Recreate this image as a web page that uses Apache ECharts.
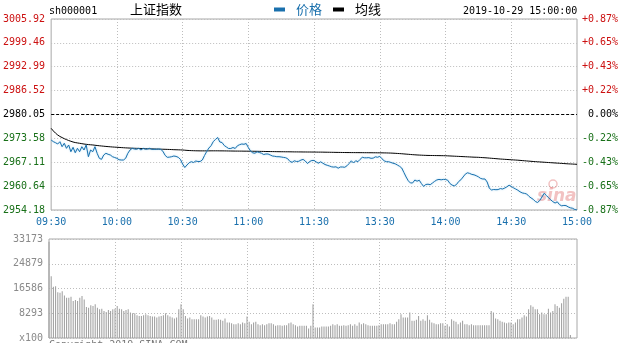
<!DOCTYPE html>
<html><head><meta charset="utf-8">
<script src="https://cdn.jsdelivr.net/npm/echarts@6/dist/echarts.min.js"></script>
<style>html,body{margin:0;padding:0;background:#fff}#c{width:624px;height:343px}</style>
</head><body><div id="c"></div><script>
const stockCode = 'sh000001';
const stockName = '上证指数';
const stamp = '2019-10-29 15:00:00';
const prevClose = 2980.05;
const priceTicks = [2954.18, 2960.64, 2967.11, 2973.58, 2980.05, 2986.52, 2992.99, 2999.46, 3005.92];
const timeTicks = ['09:30', '10:00', '10:30', '11:00', '11:30', '13:30', '14:00', '14:30', '15:00'];
const volTicks = [0, 8293.25, 16586.5, 24879.75, 33173];

const price = [
2973.14,2972.70,2972.41,2972.06,2972.68,2971.33,2972.25,2970.89,2971.79,2969.97,
2971.16,2969.70,2970.89,2969.97,2971.33,2970.43,2971.79,2968.62,2970.43,2969.97,
2971.33,2969.54,2968.18,2967.91,2969.08,2969.54,2969.27,2969.08,2968.62,2968.40,
2968.18,2967.80,2967.72,2967.72,2968.18,2969.54,2970.43,2970.89,2970.70,2970.62,
2970.89,2970.43,2970.89,2970.62,2970.70,2970.89,2970.60,2970.62,2970.62,2970.70,
2970.62,2970.10,2969.00,2968.45,2968.50,2968.62,2968.80,2968.70,2968.45,2967.91,
2966.64,2965.69,2966.37,2966.99,2967.26,2967.05,2967.45,2967.32,2967.32,2967.72,
2968.94,2970.03,2970.97,2971.60,2972.73,2973.28,2973.82,2972.60,2972.46,2971.65,
2971.24,2970.84,2970.84,2971.11,2970.84,2971.57,2971.87,2972.06,2971.98,2972.19,
2971.11,2970.16,2969.67,2969.56,2969.94,2969.76,2969.56,2969.21,2969.35,2969.35,
2969.08,2968.81,2968.73,2968.62,2968.62,2968.54,2968.43,2968.35,2968.05,2967.32,
2967.10,2967.51,2967.32,2967.37,2967.70,2967.89,2967.45,2966.77,2967.32,2967.59,
2967.60,2967.18,2966.86,2967.23,2966.86,2966.50,2966.29,2966.10,2965.88,2965.80,
2965.88,2965.50,2965.83,2965.83,2965.75,2966.15,2966.77,2967.51,2966.91,2967.53,
2967.26,2967.89,2968.46,2968.32,2968.32,2968.37,2968.18,2968.24,2968.59,2968.46,
2968.73,2968.05,2967.51,2967.26,2967.26,2967.07,2966.86,2966.70,2966.37,2966.02,
2965.56,2964.34,2963.12,2962.09,2961.49,2961.52,2962.31,2961.98,2962.25,2961.33,
2960.57,2961.09,2961.17,2961.03,2961.47,2961.93,2962.31,2962.47,2962.36,2962.47,
2962.44,2962.25,2961.36,2960.92,2960.71,2961.09,2961.90,2962.36,2963.12,2963.88,
2964.26,2964.09,2963.82,2963.71,2963.47,2963.17,2962.74,2962.58,2962.58,2961.76,
2960.06,2959.60,2959.73,2959.68,2959.71,2959.98,2959.87,2960.11,2960.46,2960.90,
2960.57,2960.19,2959.87,2959.54,2959.11,2958.81,2958.68,2958.54,2957.92,2957.46,
2957.08,2956.48,2956.21,2956.75,2957.70,2958.70,2958.13,2957.51,2956.94,2956.43,
2956.07,2956.40,2955.64,2955.31,2955.42,2955.37,2955.01,2954.77,2954.64,2954.31,
2954.18];

const avg = [
2976.30,2975.60,2975.00,2974.50,2974.10,2973.80,2973.50,2973.25,2973.00,2972.80,
2972.60,2972.45,2972.35,2972.25,2972.15,2972.05,2971.97,2971.90,2971.85,2971.80,
2971.72,2971.65,2971.58,2971.52,2971.46,2971.40,2971.35,2971.30,2971.25,2971.21,
2971.17,2971.13,2971.09,2971.05,2971.01,2970.98,2970.95,2970.92,2970.90,2970.88,
2970.86,2970.84,2970.82,2970.80,2970.78,2970.76,2970.74,2970.72,2970.70,2970.68,
2970.66,2970.64,2970.62,2970.60,2970.58,2970.55,2970.52,2970.50,2970.48,2970.46,
2970.43,2970.38,2970.33,2970.29,2970.26,2970.24,2970.22,2970.21,2970.20,2970.20,
2970.20,2970.20,2970.20,2970.21,2970.21,2970.21,2970.21,2970.20,2970.20,2970.19,
2970.18,2970.17,2970.16,2970.15,2970.14,2970.14,2970.13,2970.13,2970.12,2970.12,
2970.11,2970.10,2970.09,2970.08,2970.07,2970.06,2970.05,2970.04,2970.03,2970.02,
2970.01,2970.00,2969.99,2969.98,2969.97,2969.96,2969.96,2969.95,2969.95,2969.94,
2969.93,2969.92,2969.92,2969.91,2969.91,2969.90,2969.90,2969.89,2969.89,2969.88,
2969.88,2969.87,2969.86,2969.86,2969.85,2969.84,2969.83,2969.82,2969.81,2969.80,
2969.79,2969.78,2969.77,2969.76,2969.75,2969.74,2969.74,2969.73,2969.73,2969.72,
2969.72,2969.71,2969.71,2969.70,2969.70,2969.69,2969.69,2969.68,2969.68,2969.67,
2969.67,2969.66,2969.65,2969.64,2969.62,2969.60,2969.57,2969.54,2969.50,2969.46,
2969.42,2969.37,2969.32,2969.27,2969.22,2969.17,2969.13,2969.09,2969.06,2969.03,
2969.00,2968.98,2968.96,2968.95,2968.94,2968.93,2968.92,2968.91,2968.90,2968.89,
2968.88,2968.85,2968.82,2968.79,2968.76,2968.73,2968.70,2968.67,2968.64,2968.61,
2968.58,2968.55,2968.52,2968.49,2968.47,2968.45,2968.41,2968.37,2968.33,2968.29,
2968.24,2968.19,2968.14,2968.09,2968.04,2967.99,2967.95,2967.91,2967.87,2967.83,
2967.79,2967.75,2967.71,2967.67,2967.62,2967.57,2967.52,2967.47,2967.42,2967.37,
2967.32,2967.28,2967.24,2967.20,2967.16,2967.12,2967.08,2967.04,2967.00,2966.96,
2966.92,2966.88,2966.84,2966.80,2966.76,2966.72,2966.68,2966.65,2966.62,2966.59,
2966.56];

const volume = [
32289,20678,17140,17360,15370,15150,15700,14264,13490,13490,
13823,12384,12716,12384,13490,14043,12937,10394,10173,10947,
10726,11279,10173,9620,9842,9067,8735,9398,9067,9620,
9842,10726,9842,9620,9067,9398,9620,8514,8293,8293,
7630,7408,7408,7630,7962,7630,7408,7187,7187,6856,
7187,7408,7630,8293,7630,7187,6856,6524,6856,9620,
11279,9620,7408,6524,6856,6303,6303,6303,6303,7630,
7187,6856,7187,7408,6856,6081,6081,6303,6081,5750,
6524,5197,5197,4976,4644,4644,4976,4644,5197,4976,
7187,5418,4644,5197,5418,4644,4312,4644,4312,4644,
4976,4976,4644,4091,4312,4312,4091,4312,4312,4976,
5197,4644,4312,3870,4091,4091,4091,4091,3207,4091,
11279,3539,3539,3539,3870,3870,3870,3870,4091,4644,
4312,4644,4091,4091,4312,4091,4312,4644,4091,4644,
4091,5197,4644,4976,4644,4312,4091,4091,4091,4091,
4312,4644,4644,4644,4644,4976,4644,4644,5418,6303,
7962,6856,6856,6856,8514,5750,5750,6081,7408,5750,
6303,5750,7630,6081,5197,4976,4644,4644,4976,4976,
4091,4644,3870,6303,5750,5418,4644,5197,5750,4644,
4644,4312,4644,4312,4312,4312,4312,4312,4312,4312,
4312,9067,8514,6524,6303,5750,5418,5197,4976,5197,
5197,4644,5197,6303,6303,6856,7630,7187,9620,10947,
10505,9620,9620,7962,8514,7962,7962,9842,8514,9067,
11279,10726,10173,11610,13158,13823,13823,995,0,0,
0];

const minutes = price.map((_, i) => String(i));
const MONO = "'DejaVu Sans Mono', monospace";
const CJK = "'Noto Sans CJK SC', sans-serif";
const RED = '#cc1111', GREEN = '#187018', BLUE = '#1a70ad';
const gridLine = { show: true, lineStyle: { color: '#bdbdbd', type: [1, 2], width: 1 } };
const xSplit = { show: true, interval: (i) => i % 30 === 0 && i > 0 && i < minutes.length - 1,
  lineStyle: { color: '#bdbdbd', type: [1, 2], width: 1 } };

const chart = echarts.init(document.getElementById('c'), null, { renderer: 'canvas' });
chart.setOption({
  animation: false,
  backgroundColor: '#fff',
  legend: {
    left: 274, top: 3, padding: 0, itemWidth: 11, itemHeight: 4, itemGap: 11, icon: 'rect',
    selectedMode: false,
    textStyle: { fontSize: 13, fontFamily: CJK, padding: [0, 0, 0, 6] },
    data: [{ name: '价格', textStyle: { color: BLUE } }, { name: '均线', textStyle: { color: '#000' } }]
  },
  grid: [
    { left: 49, top: 19, width: 528, height: 191, show: true, borderColor: '#a8a8a8', borderWidth: 1 },
    { left: 49, top: 239, width: 528, height: 100, show: true, borderColor: '#a8a8a8', borderWidth: 1 }
  ],
  xAxis: [
    { type: 'category', gridIndex: 0, data: minutes, boundaryGap: false,
      axisLine: { show: false }, axisTick: { show: false },
      axisLabel: { interval: (i) => i % 30 === 0, formatter: (v, i) => timeTicks[i / 30],
        color: BLUE, fontFamily: MONO, fontSize: 10, margin: 7 },
      splitLine: xSplit },
    { type: 'category', gridIndex: 1, data: minutes, boundaryGap: false,
      axisLine: { show: false }, axisTick: { show: false }, axisLabel: { show: false },
      splitLine: xSplit }
  ],
  yAxis: [
    { type: 'value', gridIndex: 0, min: priceTicks[0], max: priceTicks[priceTicks.length - 1],
      axisLine: { show: false }, axisTick: { show: false, customValues: priceTicks },
      axisLabel: { customValues: priceTicks, formatter: (v) => Number(v).toFixed(2),
        fontFamily: MONO, fontSize: 10, margin: 6,
        color: (v) => { const n = parseFloat(v); return n > prevClose + 0.001 ? RED : (n < prevClose - 0.001 ? GREEN : '#000'); } },
      splitLine: gridLine },
    { type: 'value', gridIndex: 0, position: 'right', min: priceTicks[0], max: priceTicks[priceTicks.length - 1],
      axisLine: { show: false }, axisTick: { show: false, customValues: priceTicks },
      axisLabel: { customValues: priceTicks, fontFamily: MONO, fontSize: 10, margin: 5,
        formatter: (v) => { const p = (Number(v) - prevClose) / prevClose * 100; const s = Math.abs(p).toFixed(2);
          return (Math.abs(p) < 0.005 ? ' ' : (p > 0 ? '+' : '-')) + s + '%'; },
        color: (v) => { const n = parseFloat(v); return n > prevClose + 0.001 ? RED : (n < prevClose - 0.001 ? GREEN : '#000'); } },
      splitLine: { show: false } },
    { type: 'value', gridIndex: 1, min: 0, max: volTicks[volTicks.length - 1],
      axisLine: { show: false }, axisTick: { show: false, customValues: volTicks },
      axisLabel: { customValues: volTicks, formatter: (v) => Number(v) === 0 ? 'x100' : String(Math.floor(Number(v))),
        color: '#8a8a8a', fontFamily: MONO, fontSize: 10, margin: 6 },
      splitLine: gridLine }
  ],
  series: [
    { name: '价格', type: 'line', xAxisIndex: 0, yAxisIndex: 0, data: price, showSymbol: false,
      color: BLUE, lineStyle: { width: 1, color: BLUE, shadowColor: 'rgba(110,190,235,0.6)', shadowBlur: 2 },
      z: 3,
      markLine: { silent: true, symbol: 'none', label: { show: false },
        lineStyle: { color: '#000', type: [3, 2], width: 1 }, data: [{ yAxis: prevClose }] } },
    { name: '均线', type: 'line', xAxisIndex: 0, yAxisIndex: 0, data: avg, showSymbol: false,
      color: '#000', lineStyle: { width: 1, color: '#000' }, z: 2 },
    { name: '成交量', type: 'bar', xAxisIndex: 1, yAxisIndex: 2, data: volume, barWidth: 1,
      itemStyle: { color: '#9c9c9c' } }
  ],
  graphic: [
    { type: 'text', left: 49, top: 6, style: { text: stockCode, font: '10px ' + MONO, fill: '#000' } },
    { type: 'text', left: 130, top: 3, style: { text: stockName, font: '13px ' + CJK, fill: '#000' } },
    { type: 'text', left: 463, top: 6, style: { text: stamp, font: '10px ' + MONO, fill: '#000' } },
    { type: 'text', left: 537, top: 188, z: 1, style: { text: 'sina', font: 'italic bold 17px Verdana, DejaVu Sans, sans-serif', fill: 'rgba(226,120,120,0.45)' } },
    { type: 'circle', shape: { cx: 553, cy: 184, r: 4 }, z: 1, style: { fill: 'none', stroke: 'rgba(226,120,120,0.45)', lineWidth: 1.5 } },
    { type: 'text', left: 49, top: 340, style: { text: 'Copyright 2019 SINA.COM', font: '10px ' + MONO, fill: '#777' } }
  ]
});
</script></body></html>
